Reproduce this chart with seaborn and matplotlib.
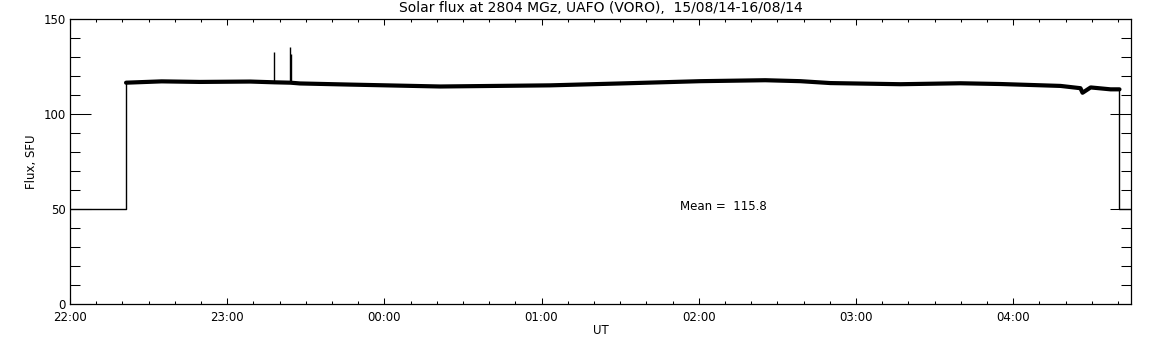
import pandas as pd
import seaborn as sns
import matplotlib.pyplot as plt
from matplotlib.ticker import MultipleLocator, FixedLocator

# time in minutes after 22:00 UT, flux in SFU
band_t = [21.4, 35.0, 49.6, 68.8, 78.0, 84.2, 87.8, 106.9, 141.3, 183.3, 210.1,
          240.6, 265.4, 278.8, 290.3, 317.0, 339.9, 355.2, 378.1, 385.7, 386.5,
          389.6, 397.2, 400.6]
band_f = [116.6, 117.3, 117.0, 117.2, 116.8, 116.6, 116.2, 115.6, 114.6, 115.2, 116.2,
          117.4, 117.9, 117.4, 116.4, 115.8, 116.3, 115.9, 114.9, 113.7, 111.3,
          114.1, 113.1, 113.1]
spike_t = [78.0, 84.1, 84.3]
spike_f = [133.0, 135.5, 131.5]
start_t = [0.0, 21.4, 21.4]
start_f = [50.0, 50.0, 116.6]
end_t = [400.6, 400.6, 405.0]
end_f = [113.1, 50.0, 50.0]
hour_labels = ["22:00", "23:00", "00:00", "01:00", "02:00", "03:00", "04:00"]
mean_flux = 115.8

sns.set_style("white")
plt.rcParams['font.family'] = ['DejaVu Sans']
plt.rcParams['text.color'] = 'black'
plt.rcParams['axes.labelcolor'] = 'black'

fig = plt.figure(figsize=(11.52, 3.45), dpi=100)
ax = fig.add_axes([70 / 1152, 41 / 345, 1061 / 1152, 284.7 / 345])

band = pd.DataFrame({"t": band_t, "flux": band_f})
sns.lineplot(data=band, x="t", y="flux", estimator=None, sort=False,
             color="black", linewidth=3.0, ax=ax)
for tt, ff in [(start_t, start_f), (end_t, end_f)]:
    sns.lineplot(x=tt, y=ff, estimator=None, sort=False, color="black",
                 linewidth=1.0, ax=ax)
ax.vlines(spike_t, 116.5, spike_f, color="black", linewidth=1.0)

ax.text(233, 51.6, f"Mean =  {mean_flux}", fontsize=8.5, ha="left", va="center",
        color="black")

ax.set_xlim(0, 405)
ax.set_ylim(0, 150)
ax.xaxis.set_major_locator(FixedLocator([60 * i for i in range(len(hour_labels))]))
ax.set_xticklabels(hour_labels)
ax.xaxis.set_minor_locator(MultipleLocator(10))
ax.yaxis.set_major_locator(MultipleLocator(50))
ax.yaxis.set_minor_locator(MultipleLocator(10))
ax.tick_params(which="both", direction="in", top=True, right=True, left=True,
               bottom=True, colors="black", width=0.75, labelsize=8.5)
ax.tick_params(axis="y", which="major", length=15, pad=3)
ax.tick_params(axis="y", which="minor", length=7)
ax.tick_params(axis="x", which="major", length=4.2, pad=5)
ax.tick_params(axis="x", which="minor", length=2.1)
for s in ax.spines.values():
    s.set_color("black")
    s.set_linewidth(0.9)

ax.set_xlabel("UT", fontsize=8.5, labelpad=0)
ax.set_ylabel("Flux, SFU", fontsize=8.5, labelpad=4)
ax.set_title("Solar flux at 2804 MGz, UAFO (VORO),  15/08/14-16/08/14",
             fontsize=10, pad=5, color="black")

fig.savefig("out.png", dpi=100, facecolor="white")
